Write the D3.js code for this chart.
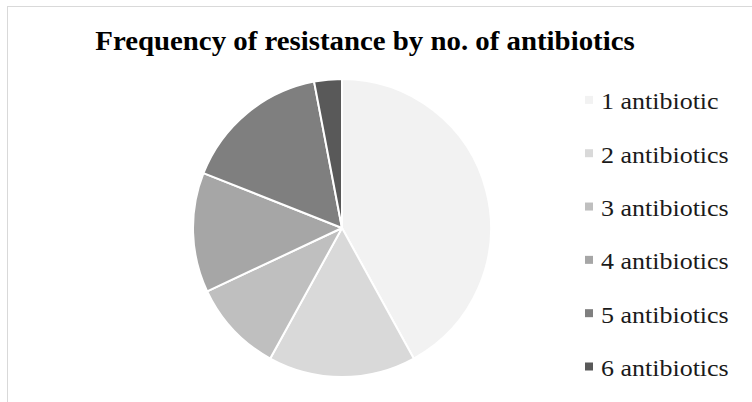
<!DOCTYPE html>
<html>
<head>
<meta charset="utf-8">
<script src="https://cdn.jsdelivr.net/npm/d3@7"></script>
<style>
  body { margin: 0; background: #fff; }
  svg { display: block; }
</style>
</head>
<body>
<div id="chart"></div>
<script>
// data (share of isolates, %)
const categories = ["1 antibiotic", "2 antibiotics", "3 antibiotics", "4 antibiotics", "5 antibiotics", "6 antibiotics"];
const values = [42, 16, 10, 13, 16, 3];
const colors = ["#f2f2f2", "#d9d9d9", "#bfbfbf", "#a6a6a6", "#7f7f7f", "#595959"];
const title = "Frequency of resistance by no. of antibiotics";

const width = 752, height = 402;
const cx = 342, cy = 228, radius = 149;
const serif = "'Liberation Serif', 'Times New Roman', serif";

const svg = d3.select("#chart").append("svg")
  .attr("width", width)
  .attr("height", height);

// chart area border (runs off the right/bottom edge)
svg.append("rect")
  .attr("x", 7.5).attr("y", 6.5)
  .attr("width", width + 10).attr("height", height + 10)
  .attr("fill", "#fff")
  .attr("stroke", "#d9d9d9")
  .attr("stroke-width", 1);

// title is a bit stretched sideways in the original
svg.append("text")
  .attr("transform", "translate(365,50) scale(1.03,1)")
  .attr("text-anchor", "middle")
  .style("font-family", serif)
  .style("font-weight", "bold")
  .style("font-size", "28px")
  .attr("fill", "#000")
  .text(title);

const data = categories.map((c, i) => ({ name: c, value: values[i], color: colors[i] }));

const pie = d3.pie().value(d => d.value).sort(null);
const arc = d3.arc().innerRadius(0).outerRadius(radius);

svg.append("g")
  .attr("transform", `translate(${cx},${cy})`)
  .selectAll("path")
  .data(pie(data))
  .join("path")
  .attr("d", arc)
  .attr("fill", d => d.data.color)
  .attr("stroke", "#fff")
  .attr("stroke-width", 2)
  .attr("stroke-linejoin", "round");

// legend
const rowY = d3.scalePoint().domain(categories).range([109.4, 376]);

const rows = svg.append("g")
  .selectAll("g")
  .data(data)
  .join("g")
  .attr("transform", d => `translate(585,${rowY(d.name)})`);

rows.append("rect")
  .attr("x", 0).attr("y", -13.5)
  .attr("width", 8).attr("height", 8)
  .attr("fill", d => d.color);

rows.append("text")
  .attr("transform", "translate(16,0) scale(1.13,1)")
  .style("font-family", serif)
  .style("font-size", "23px")
  .attr("fill", "#1a1a1a")
  .text(d => d.name);
</script>
</body>
</html>
